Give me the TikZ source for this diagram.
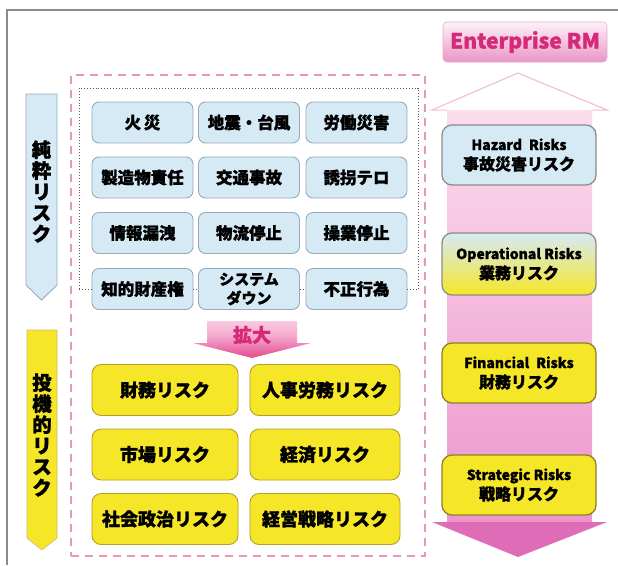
\documentclass[tikz,border=0pt]{standalone}
\usepackage{fontspec}
\setmainfont{Noto Sans CJK JP}[BoldFeatures={FakeBold=1.3}]
\definecolor{bluefill}{RGB}{214,234,246}
\definecolor{blueline}{RGB}{150,172,188}
\definecolor{yelfill}{RGB}{246,230,40}
\definecolor{yelline}{RGB}{178,160,45}
\definecolor{pinkdash}{RGB}{232,150,190}
\definecolor{pinktxt}{RGB}{214,42,120}
\definecolor{framegrey}{RGB}{140,140,140}
\definecolor{arrowpink}{RGB}{222,108,182}
\definecolor{pinkline}{RGB}{240,185,210}
\definecolor{bodyA}{RGB}{224,118,190}
\definecolor{bodyB}{RGB}{234,145,202}
\definecolor{bodyC}{RGB}{244,182,220}
\definecolor{bodyD}{RGB}{252,226,238}
\definecolor{enlA}{RGB}{254,244,248}
\definecolor{enlM}{RGB}{244,170,205}
\definecolor{enlB}{RGB}{232,88,152}
\definecolor{ermA}{RGB}{253,242,248}
\definecolor{ermB}{RGB}{232,150,198}
\pgfdeclareverticalshading{bodyshade}{100bp}{color(0bp)=(bodyA); color(22bp)=(bodyB); color(49bp)=(bodyC); color(78bp)=(bodyD); color(100bp)=(white)}
\pgfdeclareverticalshading{enlshade}{100bp}{color(0bp)=(enlB); color(30bp)=(enlB); color(55bp)=(enlM); color(100bp)=(enlA)}
\tikzset{
  blbox/.style={draw=blueline, fill=bluefill, line width=0.9, rounded corners=7,
    minimum width=101, minimum height=41, inner sep=0, align=center,
    font=\fontsize{16.5}{18}\selectfont\bfseries},
  ylbox/.style={draw=yelline, fill=yelfill, line width=0.9, rounded corners=9,
    minimum height=51, inner sep=0, font=\fontsize{18}{20}\selectfont\bfseries},
  rbox/.style={line width=1.3, rounded corners=10, minimum width=154, minimum height=60,
    inner sep=0, align=center, font=\fontsize{14}{20}\selectfont\bfseries},
  tabtext/.style={align=center, inner sep=0, font=\fontsize{19.5}{21}\selectfont\bfseries},
  dotline/.style={draw=black!65, line width=0.9, dotted},
}
\newcommand{\jl}[1]{{\fontsize{16}{20}\selectfont #1}}
\begin{document}
\begin{tikzpicture}[x=1pt,y=-1pt]
\useasboundingbox (0,0) rectangle (618,565);
\fill[white] (0,0) rectangle (618,565);
% frame
\draw[framegrey, line width=1.5] (7,565) -- (7,10) -- (618,10);

% pink dashed group
\node[draw=pinkdash, line width=2.2, dash pattern=on 8 off 6, minimum width=354, minimum height=481, inner sep=0] (group) at (248,315.5) {};

% left tabs
\draw[draw=blueline, fill=bluefill, line width=0.9] (26,94) -- (57,94) -- (57,285) -- (41.5,300) -- (26,285) -- cycle;
\node[tabtext] (tabpure) at (41.5,191.5) {純\\粋\\リ\\ス\\ク};
\draw[draw=yelline!70, fill=yelfill, line width=0.6] (27,330) -- (57,330) -- (57,538) -- (42,550) -- (27,538) -- cycle;
\node[tabtext] (tabspec) at (42,435) {投\\機\\的\\リ\\ス\\ク};

% dotted frame
\coordinate (dl) at (79,289);
\coordinate (dr) at (418,289);
\coordinate (dtl) at (79,88);
\coordinate (dtr) at (418,88);
\draw[dotline] (dl) -- (dtl) -- (dtr) -- (dr);

% blue boxes
\node[blbox] (b11) at (142.5,122.5) {火\,災};
\node[blbox] (b12) at (249,122.5) {地震・台風};
\node[blbox] (b13) at (356.5,122.5) {労働災害};
\node[blbox] (b21) at (142.5,177.5) {製造物責任};
\node[blbox] (b22) at (249,177.5) {交通事故};
\node[blbox] (b23) at (356.5,177.5) {誘拐テロ};
\node[blbox] (b31) at (142.5,233) {情報漏洩};
\node[blbox] (b32) at (249,233) {物流停止};
\node[blbox] (b33) at (356.5,233) {操業停止};
\node[blbox] (b41) at (142.5,289) {知的財産権};
\node[blbox, font=\fontsize{15}{19}\selectfont\bfseries] (b42) at (249,289) {システム\\ダウン};
\node[blbox] (b43) at (356.5,289) {不正行為};
\draw[dotline] (dl) -- (b41.west);
\draw[dotline] (b41.east) -- (b42.west);
\draw[dotline] (b42.east) -- (b43.west);
\draw[dotline] (b43.east) -- (dr);

% enlarge arrow
\shade[shading=enlshade] (207,321) -- (297,321) -- (297,343) -- (311,343) -- (252,358) -- (193,343) -- (207,343) -- cycle;
\node[inner sep=0, text=pinktxt, font=\fontsize{19}{21}\selectfont\bfseries] (enl) at (252,335) {拡大};

% yellow boxes
\node[ylbox, minimum width=146] (y11) at (165,390) {財務リスク};
\node[ylbox, minimum width=150] (y12) at (325,390) {人事労務リスク};
\node[ylbox, minimum width=146] (y21) at (165,454.5) {市場リスク};
\node[ylbox, minimum width=150] (y22) at (325,454.5) {経済リスク};
\node[ylbox, minimum width=146] (y31) at (165,519) {社会政治リスク};
\node[ylbox, minimum width=150] (y32) at (325,519) {経営戦略リスク};

% right ERM arrow
\shade[shading=bodyshade] (447,110) rectangle (592,522);
\fill[arrowpink] (432,522) -- (607,522) -- (518,557) -- cycle;
\draw[pinkline, line width=1, fill=white] (447,110) -- (432,110) -- (518,73) -- (607,110) -- (592,110);

\node[draw=ermB!80, line width=0.6, rounded corners=4, top color=ermA, bottom color=ermB,
  minimum width=164, minimum height=40, inner sep=0, text=pinktxt,
  font=\fontsize{21}{24}\selectfont\bfseries] (erm) at (525,42) {Enterprise RM};

\node[rbox, draw=black!45, fill=bluefill] (haz) at (519,155) {Hazard\enspace Risks\\\jl{事故災害リスク}};
\node[rbox, draw=black!45, top color=bluefill, bottom color=yelfill, minimum height=62] (ope) at (519,264) {Operational Risks\\\jl{業務リスク}};
\node[rbox, draw=yelline!80!black, fill=yelfill] (fin) at (519,373) {Financial\enspace Risks\\\jl{財務リスク}};
\node[rbox, draw=yelline!80!black, fill=yelfill] (str) at (519,485) {Strategic Risks\\\jl{戦略リスク}};
\end{tikzpicture}
\end{document}
